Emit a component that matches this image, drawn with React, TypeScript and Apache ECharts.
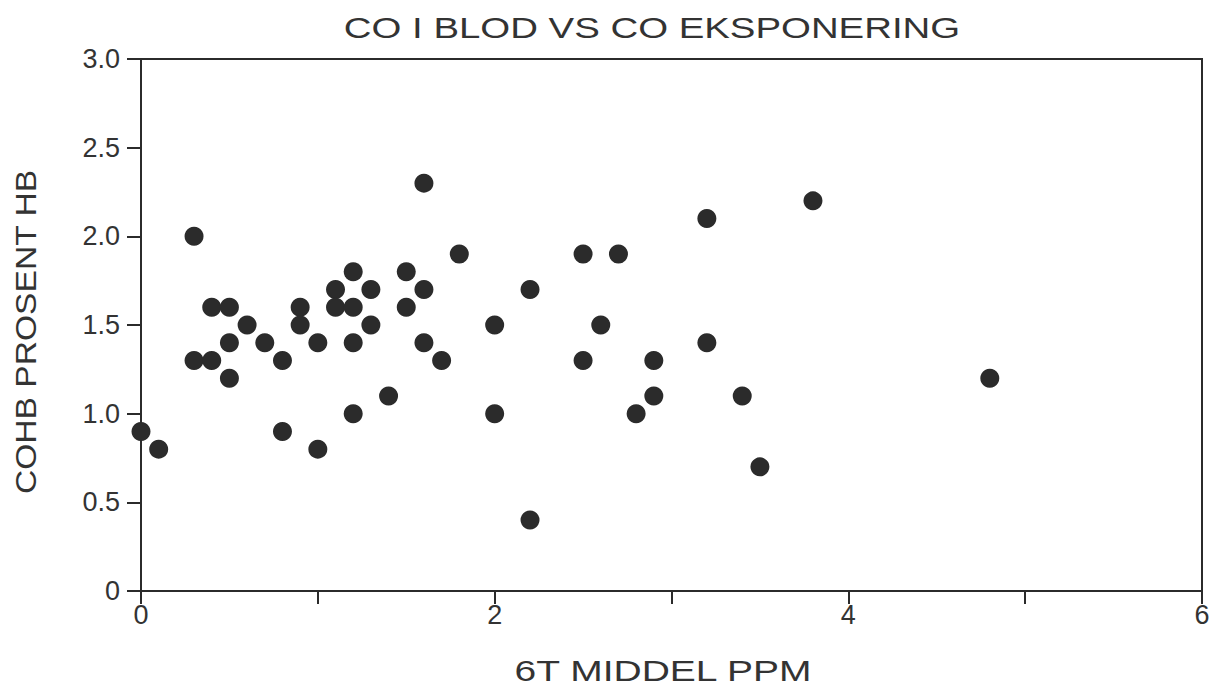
import React, { useEffect, useRef } from "react";
import * as echarts from "echarts";

const titleText = "CO I BLOD VS CO EKSPONERING";
const xName = "6T MIDDEL PPM";
const yName = "COHB PROSENT HB";

const exposurePpm: number[] = [
  0, 0.1, 0.3, 0.3, 0.4, 0.4, 0.5, 0.5, 0.5, 0.6,
  0.7, 0.8, 0.8, 0.9, 0.9, 1.0, 1.0, 1.1, 1.1, 1.2,
  1.2, 1.2, 1.2, 1.3, 1.3, 1.4, 1.5, 1.5, 1.6, 1.6,
  1.6, 1.7, 1.8, 2.0, 2.0, 2.2, 2.2, 2.5, 2.5, 2.6,
  2.7, 2.8, 2.9, 2.9, 3.2, 3.2, 3.4, 3.5, 3.8, 4.8,
];
const cohbPercent: number[] = [
  0.9, 0.8, 2.0, 1.3, 1.6, 1.3, 1.6, 1.4, 1.2, 1.5,
  1.4, 1.3, 0.9, 1.6, 1.5, 1.4, 0.8, 1.7, 1.6, 1.8,
  1.6, 1.4, 1.0, 1.7, 1.5, 1.1, 1.8, 1.6, 2.3, 1.7,
  1.4, 1.3, 1.9, 1.5, 1.0, 1.7, 0.4, 1.9, 1.3, 1.5,
  1.9, 1.0, 1.3, 1.1, 2.1, 1.4, 1.1, 0.7, 2.2, 1.2,
];

const xLabelValues = [0, 2, 4, 6];

const INK = "#2b2b2b";
const FONT = "Liberation Sans";

export default function App() {
  const ref = useRef<HTMLDivElement>(null);
  useEffect(() => {
    if (!ref.current) return;
    const chart = echarts.init(ref.current, null, { renderer: "svg" });
    const points = exposurePpm.map((x, i) => [x, cohbPercent[i]]);
    chart.setOption({
      animation: false,
      backgroundColor: "#ffffff",
      grid: {
        left: 141,
        right: 16,
        top: 59,
        bottom: 101,
        show: true,
        borderColor: INK,
        borderWidth: 2,
      },
      xAxis: {
        type: "value",
        min: 0,
        max: 6,
        interval: 1,
        axisLine: { show: true, lineStyle: { color: INK, width: 2 } },
        axisTick: { show: true, inside: false, length: 13, lineStyle: { color: INK, width: 2 } },
        splitLine: { show: false },
        axisLabel: {
          margin: 10,
          color: "#333",
          fontFamily: FONT,
          fontSize: 27,
          formatter: (v: number) => (xLabelValues.includes(v) ? String(v) : ""),
        },
      },
      yAxis: {
        type: "value",
        min: 0,
        max: 3,
        interval: 0.5,
        axisLine: { show: true, lineStyle: { color: INK, width: 2 } },
        axisTick: { show: true, inside: false, length: 14, lineStyle: { color: INK, width: 2 } },
        splitLine: { show: false },
        axisLabel: {
          margin: 21,
          color: "#333",
          fontFamily: FONT,
          fontSize: 27,
          formatter: (v: number) => (v === 0 ? "0" : v.toFixed(1)),
        },
      },
      graphic: [
        {
          type: "text",
          x: 652,
          y: 28,
          scaleX: 1.28,
          style: {
            text: titleText,
            fill: "#333",
            font: `30px "${FONT}"`,
            textAlign: "center",
            textVerticalAlign: "middle",
          },
        },
        {
          type: "text",
          x: 663,
          y: 671,
          scaleX: 1.3,
          style: {
            text: xName,
            fill: "#333",
            font: `30px "${FONT}"`,
            textAlign: "center",
            textVerticalAlign: "middle",
          },
        },
        {
          type: "text",
          x: 26,
          y: 332,
          rotation: Math.PI / 2,
          scaleX: 1.12,
          style: {
            text: yName,
            fill: "#333",
            font: `30px "${FONT}"`,
            textAlign: "center",
            textVerticalAlign: "middle",
          },
        },
      ],
      series: [
        {
          type: "scatter",
          data: points,
          symbol: "circle",
          symbolSize: 19,
          itemStyle: { color: INK, opacity: 1 },
        },
      ],
    });
    return () => chart.dispose();
  }, []);
  return (
    <div
      ref={ref}
      style={{ position: "absolute", left: 0, top: 0, width: 1218, height: 692 }}
    />
  );
}
